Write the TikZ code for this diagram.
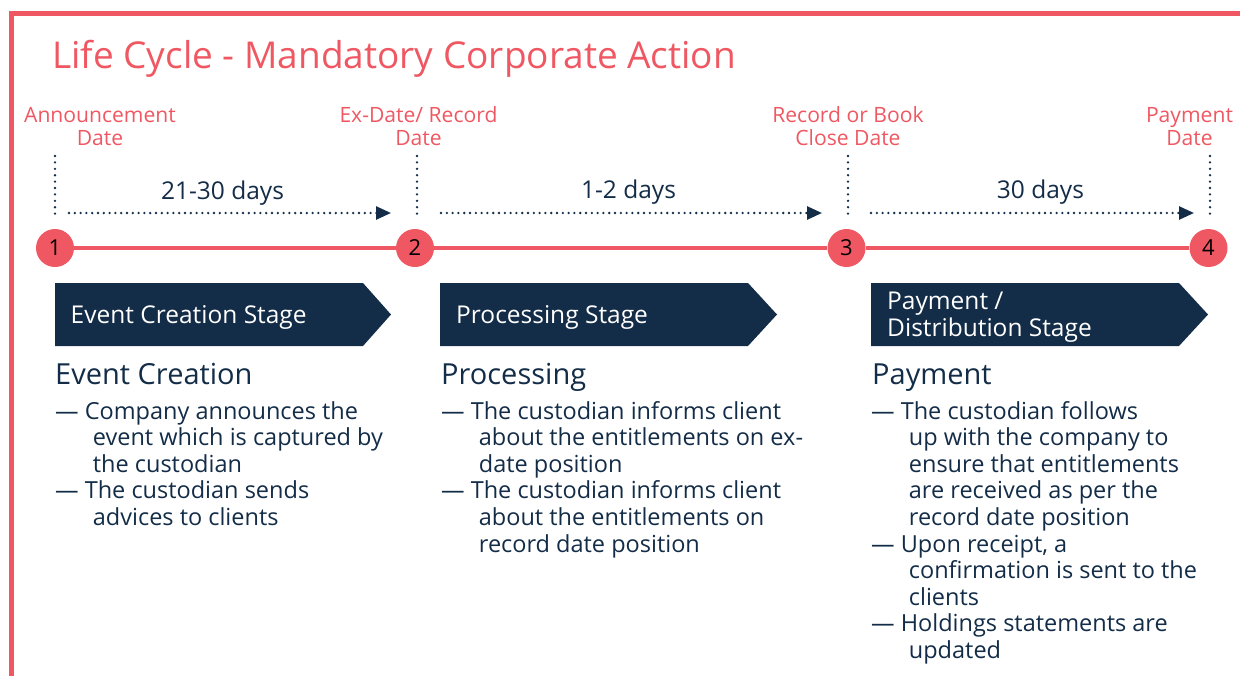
\documentclass[tikz,border=0pt]{standalone}
\usepackage{fontspec}
\setmainfont{Open Sans}
\usetikzlibrary{arrows.meta}
\definecolor{cred}{HTML}{EF5862}
\definecolor{navy}{HTML}{132C47}
\begin{document}
\begin{tikzpicture}[x=1pt,y=-1pt,
  datelbl/.style={text=cred, font=\fontsize{21.1}{23}\selectfont, anchor=base, inner sep=0pt},
  dayslbl/.style={text=navy, font=\fontsize{24.5}{26}\selectfont, anchor=base, inner sep=0pt},
  circ/.style={circle, fill=cred, minimum size=38pt, inner sep=0pt, text=black, font=\fontsize{22}{22}\selectfont},
  tline/.style={cred, line width=4.5pt},
  vdots/.style={navy, line width=2.6pt, line cap=round, dash pattern=on 0pt off 6.4pt},
  hdots/.style={navy, line width=2.6pt, line cap=round, dash pattern=on 0pt off 5.8pt, -{Triangle[length=15pt,width=13pt]}},
  chev/.style={fill=navy},
  stagetxt/.style={text=white, font=\fontsize{24.5}{27.4}\selectfont, align=left, anchor=base west, inner sep=0pt},
  head/.style={text=navy, font=\fontsize{29}{32}\selectfont, anchor=base west, inner sep=0pt},
  body/.style={text=navy, font=\fontsize{23.5}{26.6}\selectfont, align=left, anchor=base west, inner sep=0pt}
]
\useasboundingbox (0,0) rectangle (1240,675);
% frame
\draw[cred, line width=5pt] (11,690) -- (11,13) -- (1260,13);
% title
\node[text=cred, font=\fontsize{37}{40}\selectfont, anchor=base west, inner sep=0pt] (title) at (52,68) {Life Cycle - Mandatory Corporate Action};
% date labels
\node[datelbl] (d1a) at (100,122.7) {Announcement};
\node[datelbl] (d1b) at (100,145.7) {Date};
\node[datelbl] (d2a) at (418.5,122.7) {Ex-Date/ Record};
\node[datelbl] (d2b) at (418.5,145.7) {Date};
\node[datelbl] (d3a) at (848,122.7) {Record or Book};
\node[datelbl] (d3b) at (848,145.7) {Close Date};
\node[datelbl] (d4a) at (1189.5,122.7) {Payment};
\node[datelbl] (d4b) at (1189.5,145.7) {Date};
% circles and line
\node[circ] (c1) at (55,248) {1};
\node[circ] (c2) at (415,248) {2};
\node[circ] (c3) at (846.5,248) {3};
\node[circ] (c4) at (1208.5,248) {4};
\draw[tline] (c1) -- (c2);
\draw[tline] (c2) -- (c3);
\draw[tline] (c3) -- (c4);
% vertical dotted
\coordinate (v1t) at (55,156); \coordinate (v1b) at (55,219);
\coordinate (v2t) at (417,156); \coordinate (v2b) at (417,219);
\coordinate (v3t) at (848,156); \coordinate (v3b) at (848,219);
\coordinate (v4t) at (1210,156); \coordinate (v4b) at (1210,219);
\draw[vdots] (v1t) -- (v1b);
\draw[vdots] (v2t) -- (v2b);
\draw[vdots] (v3t) -- (v3b);
\draw[vdots] (v4t) -- (v4b);
% dotted arrows
\coordinate (a1s) at (69,213); \coordinate (a1e) at (391,213);
\coordinate (a2s) at (441,213); \coordinate (a2e) at (822,213);
\coordinate (a3s) at (871,213); \coordinate (a3e) at (1194,213);
\draw[hdots] (a1s) -- (a1e);
\draw[hdots] (a2s) -- (a2e);
\draw[hdots] (a3s) -- (a3e);
\node[dayslbl] (l1) at (222.5,199) {21-30 days};
\node[dayslbl] (l2) at (628.5,198) {1-2 days};
\node[dayslbl] (l3) at (1040.5,198) {30 days};
% chevrons
\fill[chev] (55,283) -- (363,283) -- (391,314.5) -- (363,346) -- (55,346) -- cycle;
\fill[chev] (440,283) -- (748,283) -- (777,314.5) -- (748,346) -- (440,346) -- cycle;
\fill[chev] (871,283) -- (1179,283) -- (1208,314.5) -- (1179,346) -- (871,346) -- cycle;
\node[stagetxt] (s1) at (70.5,323) {Event Creation Stage};
\node[stagetxt] (s2) at (456,323) {Processing Stage};
\node[stagetxt] (s3) at (887,336.7) {Payment /\\Distribution Stage};
% headings
\node[head] (h1) at (55,384) {Event Creation};
\node[head] (h2) at (441,384) {Processing};
\node[head] (h3) at (872,384) {Payment};
% bodies
\node[body] (b1) at (55,525.4) {— Company announces the\\\hspace*{37.7pt}event which is captured by\\\hspace*{37.7pt}the custodian\\— The custodian sends\\\hspace*{37.7pt}advices to clients};
\node[body] (b2) at (441,552) {— The custodian informs client\\\hspace*{37.7pt}about the entitlements on ex-\\\hspace*{37.7pt}date position\\— The custodian informs client\\\hspace*{37.7pt}about the entitlements on\\\hspace*{37.7pt}record date position};
\node[body] (b3) at (871,658.4) {— The custodian follows\\\hspace*{37.7pt}up with the company to\\\hspace*{37.7pt}ensure that entitlements\\\hspace*{37.7pt}are received as per the\\\hspace*{37.7pt}record date position\\— Upon receipt, a\\\hspace*{37.7pt}confirmation is sent to the\\\hspace*{37.7pt}clients\\— Holdings statements are\\\hspace*{37.7pt}updated};
\end{tikzpicture}
\end{document}
